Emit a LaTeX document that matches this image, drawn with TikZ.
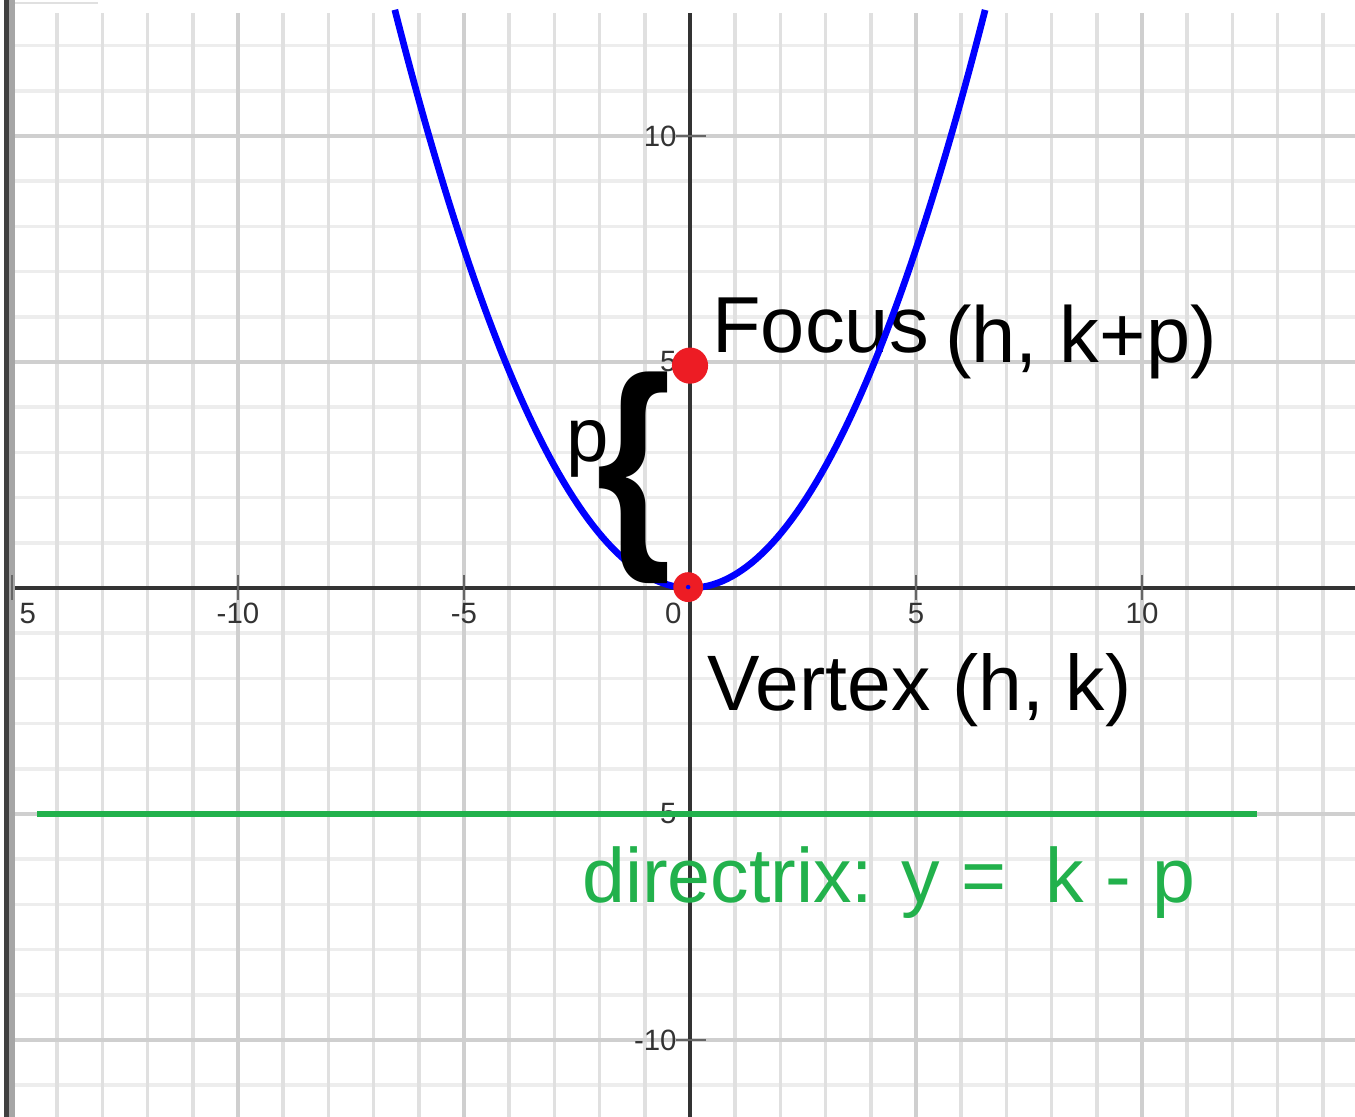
\documentclass[tikz,border=0pt]{standalone}
\usepackage{fontspec}
\setmainfont{Liberation Sans}
\definecolor{dirgreen}{RGB}{34,177,76}
\definecolor{ptred}{RGB}{237,28,36}
\definecolor{axisgray}{RGB}{51,51,51}
\begin{document}
\begin{tikzpicture}[
  minorv/.style={line width=2.2pt,black!12},
  minorh/.style={line width=2.2pt,black!7},
  major/.style={line width=2.2pt,black!19},
  axisline/.style={line width=2pt,axisgray},
  tickmark/.style={line width=1.5pt,black!60},
  ticklbl/.style={font=\fontsize{18.5}{20}\selectfont,text=axisgray,inner sep=0pt},
  biglbl/.style={font=\fontsize{50}{60}\selectfont,inner sep=0pt,anchor=base west},
  dot/.style={circle,fill=ptred,inner sep=0pt}]
\useasboundingbox (-15.265,-11.681) rectangle (14.712,13.009);
\clip (-15.265,-11.681) rectangle (14.712,13.009);
% grid
\foreach \y in {-11,...,12} {\draw[minorh] (-14.93,\y) -- (14.8,\y);}
\foreach \x in {-14,...,14} {\draw[minorv] (\x,12.72) -- (\x,-11.8);}
\foreach \y in {-10,-5,5,10} {\draw[major] (-14.93,\y) -- (14.8,\y);}
\foreach \x in {-15,-10,-5,5,10} {\draw[major] (\x,12.72) -- (\x,-11.8);}
\draw[black!12,line width=1pt] (-14.93,12.94) -- (-13.1,12.94);
% window edge
\fill[black!75] (-15.177,-11.8) rectangle (-15.066,13.1);
\fill[black!35] (-15.066,-11.8) rectangle (-14.934,13.1);
% axes
\coordinate (xl) at (-14.93,0);
\coordinate (xr) at (14.8,0);
\coordinate (yt) at (0,12.72);
\coordinate (yb) at (0,-11.8);
\draw[axisline] (xl) -- (xr);
\draw[axisline] (yt) -- (yb);
\foreach \x in {-15,-10,-5,5,10} {\draw[tickmark] (\x,0.29) -- (\x,-0.27);}
\foreach \y in {-10,-5,5,10} {\draw[tickmark] (-0.3,\y) -- (0.35,\y);}
\foreach \x in {-10,-5,5,10} {\node[ticklbl,anchor=north] (xt\x) at (\x,-0.33) {\x};}
\node[ticklbl,anchor=north] (xtm15) at (-14.65,-0.33) {5};
\node[ticklbl,anchor=north east] (xt0) at (-0.18,-0.33) {0};
\foreach \y in {-10,-5,5,10} {\node[ticklbl,anchor=east] (yt\y) at (-0.29,\y) {\y};}
% labels
\node[biglbl] (focuslbl) at (0.49,5.22) {Focus};
\node[biglbl] (focuspt) at (5.64,5.0) {(h, k+p)};
\node[biglbl,font=\fontsize{49.5}{58}\selectfont] (vertexlbl) at (0.38,-2.70) {Vertex (h, k)};
\node[biglbl,font=\fontsize{48.5}{58}\selectfont,text=dirgreen] (dirlbl) at (-2.39,-6.95) {directrix: y =\enspace k - p};
% parabola y = 0.3x^2
\draw[blue,line width=4.2pt,domain=-6.53:6.53,samples=120] plot (\x,{0.3*\x*\x});
% directrix
\coordinate (dl) at (-14.45,-5);
\coordinate (dr) at (12.54,-5);
\draw[dirgreen,line width=3.4pt] (dl) -- (dr);
% distance p
\node[inner sep=0pt,font=\bfseries\fontsize{143}{143}\selectfont] (brace) at (-1.23,2.43) {\scalebox{0.85}[1]{\{}};
\node[biglbl,font=\fontsize{48}{58}\selectfont] (plbl) at (-2.74,2.79) {p};
% points
\node[dot,minimum size=0.8cm] (focus) at (0,4.92) {};
\node[dot,minimum size=0.66cm] (vertex) at (-0.04,0.02) {};
\fill[blue] (vertex) circle (0.05);
\end{tikzpicture}
\end{document}
